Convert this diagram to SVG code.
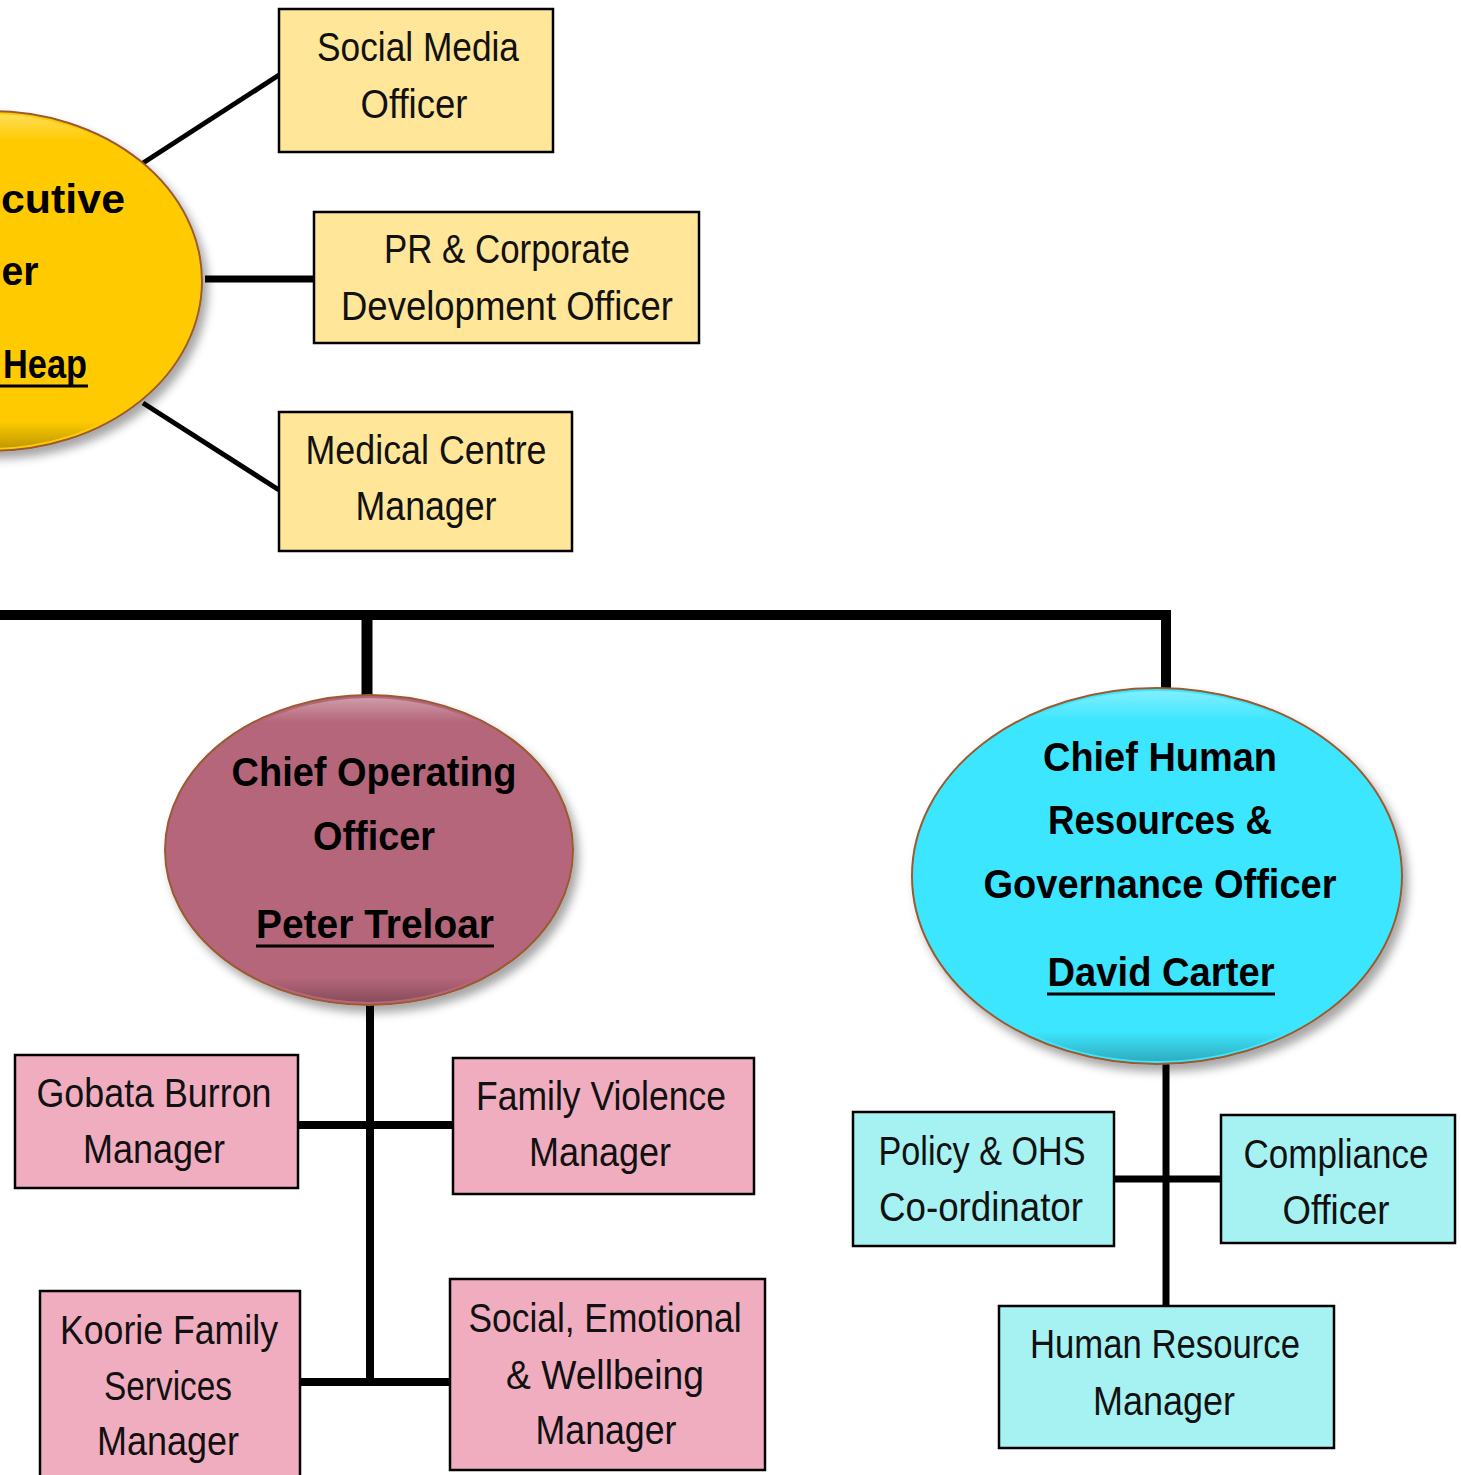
<svg xmlns="http://www.w3.org/2000/svg" width="1461" height="1475" viewBox="0 0 1461 1475">
<style>
.box{stroke:#000;stroke-width:2.5}
.y{fill:#FFE699}
.p{fill:#F0ADC0}
.c{fill:#A6F2F2}
.t{font-family:"Liberation Sans",Arial,sans-serif;font-size:40px;fill:#111;text-anchor:middle}
.b{font-family:"Liberation Sans",Arial,sans-serif;font-size:40px;font-weight:bold;fill:#000;text-anchor:middle}
.ln{stroke:#000;fill:none}
.ul{stroke:#000;stroke-width:3}
.ell{stroke:#9A5A30;stroke-width:2}
</style>
<defs>
<filter id="sh" x="-20%" y="-20%" width="150%" height="150%">
<feGaussianBlur in="SourceAlpha" stdDeviation="5"/>
<feOffset dx="5" dy="7" result="o"/>
<feFlood flood-color="#000" flood-opacity="0.35"/>
<feComposite in2="o" operator="in"/>
<feMerge><feMergeNode/><feMergeNode in="SourceGraphic"/></feMerge>
</filter>
<linearGradient id="hl" x1="0" y1="0" x2="0" y2="1">
<stop offset="0" stop-color="#fff" stop-opacity="0.35"/>
<stop offset="0.08" stop-color="#fff" stop-opacity="0"/>
<stop offset="0.92" stop-color="#000" stop-opacity="0"/>
<stop offset="1" stop-color="#000" stop-opacity="0.25"/>
</linearGradient>
</defs>

<g id="connectors">
<line class="ln" x1="143" y1="163" x2="279" y2="75" stroke-width="5"/>
<line class="ln" x1="205" y1="279" x2="314" y2="279" stroke-width="7"/>
<line class="ln" x1="143" y1="403" x2="279" y2="490" stroke-width="5"/>
<polyline class="ln" points="0,615 1166,615 1166,690" stroke-width="10"/>
<line class="ln" x1="367" y1="615" x2="367" y2="697" stroke-width="11"/>
<line class="ln" x1="370" y1="1004" x2="370" y2="1386" stroke-width="8"/>
<line class="ln" x1="298" y1="1125" x2="453" y2="1125" stroke-width="8"/>
<line class="ln" x1="300" y1="1382" x2="450" y2="1382" stroke-width="8"/>
<line class="ln" x1="1166" y1="1062" x2="1166" y2="1306" stroke-width="7"/>
<line class="ln" x1="1114" y1="1179" x2="1221" y2="1179" stroke-width="7"/>
</g>

<g id="ceo">
<ellipse cx="-9" cy="281" rx="211" ry="170" fill="#FFCB05" class="ell" filter="url(#sh)"/>
<ellipse cx="-9" cy="281" rx="208" ry="167" fill="url(#hl)"/>
<text class="b" x="63" y="213" textLength="124" lengthAdjust="spacingAndGlyphs">cutive</text>
<text class="b" x="20" y="285" textLength="37" lengthAdjust="spacingAndGlyphs">er</text>
<text class="b" x="45" y="378" textLength="84" lengthAdjust="spacingAndGlyphs">Heap</text>
<line class="ul" x1="0" y1="386" x2="88" y2="386"/>
</g>

<g id="social-media">
<rect class="box y" x="279" y="9" width="274" height="143"/>
<text class="t" x="418" y="61" textLength="202" lengthAdjust="spacingAndGlyphs">Social Media</text>
<text class="t" x="414" y="118" textLength="107" lengthAdjust="spacingAndGlyphs">Officer</text>
</g>

<g id="pr-corporate">
<rect class="box y" x="314" y="212" width="385" height="131"/>
<text class="t" x="507" y="263" textLength="246" lengthAdjust="spacingAndGlyphs">PR &amp; Corporate</text>
<text class="t" x="507" y="320" textLength="332" lengthAdjust="spacingAndGlyphs">Development Officer</text>
</g>

<g id="medical-centre">
<rect class="box y" x="279" y="412" width="293" height="139"/>
<text class="t" x="426" y="464" textLength="241" lengthAdjust="spacingAndGlyphs">Medical Centre</text>
<text class="t" x="426" y="520" textLength="141" lengthAdjust="spacingAndGlyphs">Manager</text>
</g>

<g id="coo">
<ellipse cx="369" cy="850" rx="204" ry="155" fill="#B5667A" class="ell" filter="url(#sh)"/>
<ellipse cx="369" cy="850" rx="201" ry="152" fill="url(#hl)"/>
<text class="b" x="374" y="786" textLength="285" lengthAdjust="spacingAndGlyphs">Chief Operating</text>
<text class="b" x="374" y="850" textLength="122" lengthAdjust="spacingAndGlyphs">Officer</text>
<text class="b" x="375" y="938" textLength="238" lengthAdjust="spacingAndGlyphs">Peter Treloar</text>
<line class="ul" x1="256" y1="946" x2="494" y2="946"/>
</g>

<g id="chro">
<ellipse cx="1157" cy="876" rx="245" ry="188" fill="#3EE6FF" class="ell" filter="url(#sh)"/>
<ellipse cx="1157" cy="876" rx="242" ry="185" fill="url(#hl)"/>
<text class="b" x="1160" y="771" textLength="234" lengthAdjust="spacingAndGlyphs">Chief Human</text>
<text class="b" x="1160" y="834" textLength="224" lengthAdjust="spacingAndGlyphs">Resources &amp;</text>
<text class="b" x="1160" y="898" textLength="353" lengthAdjust="spacingAndGlyphs">Governance Officer</text>
<text class="b" x="1161" y="986" textLength="227" lengthAdjust="spacingAndGlyphs">David Carter</text>
<line class="ul" x1="1047" y1="994" x2="1275" y2="994"/>
</g>

<g id="gobata-burron">
<rect class="box p" x="15" y="1055" width="283" height="133"/>
<text class="t" x="154" y="1107" textLength="235" lengthAdjust="spacingAndGlyphs">Gobata Burron</text>
<text class="t" x="154" y="1163" textLength="142" lengthAdjust="spacingAndGlyphs">Manager</text>
</g>

<g id="family-violence">
<rect class="box p" x="453" y="1058" width="301" height="136"/>
<text class="t" x="601" y="1110" textLength="250" lengthAdjust="spacingAndGlyphs">Family Violence</text>
<text class="t" x="600" y="1166" textLength="142" lengthAdjust="spacingAndGlyphs">Manager</text>
</g>

<g id="koorie-family">
<rect class="box p" x="40" y="1291" width="260" height="190"/>
<text class="t" x="169" y="1344" textLength="218" lengthAdjust="spacingAndGlyphs">Koorie Family</text>
<text class="t" x="168" y="1400" textLength="128" lengthAdjust="spacingAndGlyphs">Services</text>
<text class="t" x="168" y="1455" textLength="142" lengthAdjust="spacingAndGlyphs">Manager</text>
</g>

<g id="social-emotional">
<rect class="box p" x="450" y="1279" width="315" height="191"/>
<text class="t" x="605" y="1332" textLength="273" lengthAdjust="spacingAndGlyphs">Social, Emotional</text>
<text class="t" x="605" y="1389" textLength="198" lengthAdjust="spacingAndGlyphs">&amp; Wellbeing</text>
<text class="t" x="606" y="1444" textLength="141" lengthAdjust="spacingAndGlyphs">Manager</text>
</g>

<g id="policy-ohs">
<rect class="box c" x="853" y="1112" width="261" height="134"/>
<text class="t" x="982" y="1165" textLength="207" lengthAdjust="spacingAndGlyphs">Policy &amp; OHS</text>
<text class="t" x="981" y="1221" textLength="204" lengthAdjust="spacingAndGlyphs">Co-ordinator</text>
</g>

<g id="compliance">
<rect class="box c" x="1221" y="1115" width="234" height="128"/>
<text class="t" x="1336" y="1168" textLength="185" lengthAdjust="spacingAndGlyphs">Compliance</text>
<text class="t" x="1336" y="1224" textLength="107" lengthAdjust="spacingAndGlyphs">Officer</text>
</g>

<g id="hr-manager">
<rect class="box c" x="999" y="1306" width="335" height="142"/>
<text class="t" x="1165" y="1358" textLength="270" lengthAdjust="spacingAndGlyphs">Human Resource</text>
<text class="t" x="1164" y="1415" textLength="142" lengthAdjust="spacingAndGlyphs">Manager</text>
</g>
</svg>
